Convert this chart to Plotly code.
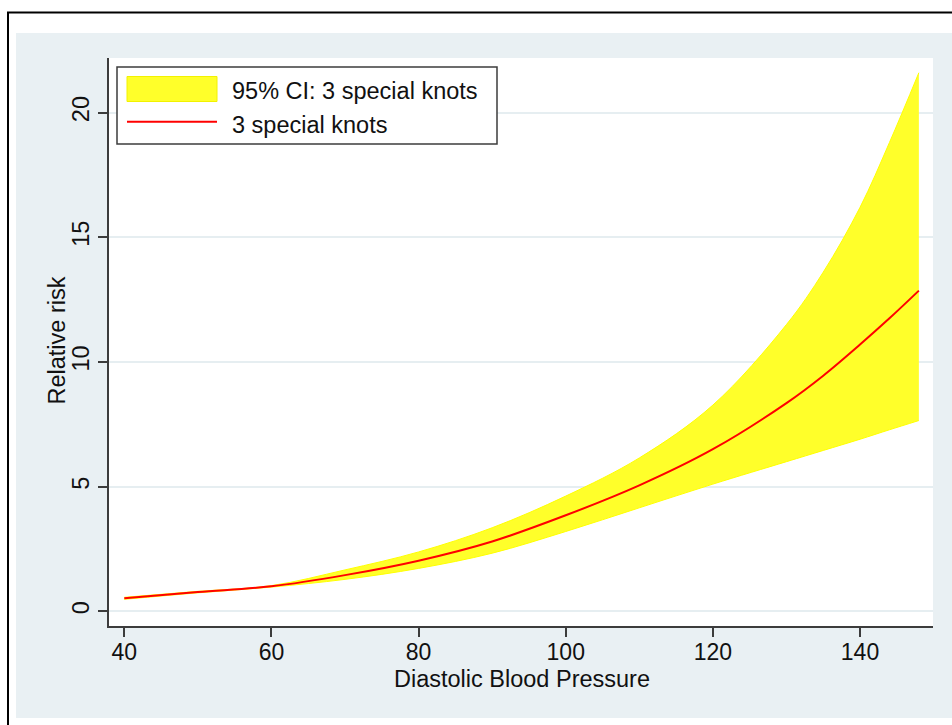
import plotly.graph_objects as go

# ---- data ----
dbp = [40, 50, 60, 70, 80, 90, 100, 110, 120, 130, 135, 140, 144, 148]
rr = [0.52, 0.77, 1.0, 1.45, 2.03, 2.8, 3.85, 5.05, 6.5, 8.35, 9.45, 10.7, 11.75, 12.86]
ci_upper = [0.56, 0.80, 1.03, 1.66, 2.38, 3.35, 4.62, 6.15, 8.27, 11.5, 13.6, 16.2, 18.8, 21.6]
ci_lower = [0.48, 0.74, 0.97, 1.28, 1.72, 2.33, 3.2, 4.15, 5.1, 6.0, 6.45, 6.9, 7.28, 7.65]

x_ticks = [40, 60, 80, 100, 120, 140]
y_ticks = [0, 5, 10, 15, 20]
legend_labels = ["95% CI: 3 special knots", "3 special knots"]
x_title = "Diastolic Blood Pressure"
y_title = "Relative risk"

# ---- geometry ----
W, H = 952, 725
L, R, T, B = 109, 933, 58, 626
PW, PH = R - L, B - T


def px(x):
    return (x - L) / PW


def py(y):
    return (B - y) / PH


FONT = "Liberation Sans, Arial, sans-serif"
FS = 23
TXT = "#111111"
YELLOW = "#ffff2a"
RED = "#ff0000"
GRID = "#e6eef1"
AXIS = "#3c3c3c"
REGION = "#e9f0f3"

fig = go.Figure()
fig.add_trace(go.Scatter(x=dbp, y=ci_lower, mode="lines", line=dict(color="#ffff00", width=1, shape="spline"),
                         showlegend=False, hoverinfo="skip"))
fig.add_trace(go.Scatter(x=dbp, y=ci_upper, mode="lines", fill="tonexty", fillcolor=YELLOW,
                         line=dict(color="#ffff00", width=1, shape="spline"), name=legend_labels[0], showlegend=False))
fig.add_trace(go.Scatter(x=dbp, y=rr, mode="lines", line=dict(color=RED, width=2, shape="spline"),
                         name=legend_labels[1], showlegend=False))

shapes = [
    # graph region
    dict(type="rect", xref="paper", yref="paper", x0=px(16), x1=px(970), y0=py(718), y1=py(33),
         fillcolor=REGION, line=dict(width=0), layer="below"),
    # plot region
    dict(type="rect", xref="paper", yref="paper", x0=0, x1=1, y0=0, y1=1,
         fillcolor="white", line=dict(width=0), layer="below"),
    # outer frame
    dict(type="rect", xref="paper", yref="paper", x0=px(8), x1=px(980), y0=py(760), y1=py(12.5),
         fillcolor="rgba(0,0,0,0)", line=dict(color="black", width=2), layer="below"),
    # legend box
    dict(type="rect", xref="paper", yref="paper", x0=px(117), x1=px(497), y0=py(144), y1=py(67),
         fillcolor="white", line=dict(color=AXIS, width=1.5), layer="above"),
    dict(type="rect", xref="paper", yref="paper", x0=px(127), x1=px(217), y0=py(101.5), y1=py(76.5),
         fillcolor=YELLOW, line=dict(color="#f2f200", width=1), layer="above"),
    dict(type="line", xref="paper", yref="paper", x0=px(127), x1=px(217), y0=py(121.7), y1=py(121.7),
         line=dict(color=RED, width=2), layer="above"),
]

annotations = [
    dict(text=legend_labels[0], xref="paper", yref="paper", x=px(230), y=py(91), xanchor="left",
         yanchor="middle", showarrow=False, font=dict(family=FONT, size=FS + 0.5, color=TXT)),
    dict(text=legend_labels[1], xref="paper", yref="paper", x=px(230), y=py(125), xanchor="left",
         yanchor="middle", showarrow=False, font=dict(family=FONT, size=FS + 0.5, color=TXT)),
    dict(text=x_title, xref="paper", yref="paper", x=px(521.5), y=py(678.5), xanchor="center",
         yanchor="middle", showarrow=False, font=dict(family=FONT, size=FS + 0.5, color=TXT)),
    dict(text=y_title, xref="paper", yref="paper", x=px(56.5), y=py(341), xanchor="center",
         yanchor="middle", textangle=-90, showarrow=False, font=dict(family=FONT, size=FS + 0.5, color=TXT)),
]

fig.update_layout(
    width=W, height=H,
    margin=dict(l=L, r=W - R, t=T, b=H - B, pad=0),
    paper_bgcolor="white",
    plot_bgcolor="rgba(0,0,0,0)",
    font=dict(family=FONT, size=FS, color=TXT),
    showlegend=False,
    shapes=shapes,
    annotations=annotations,
    xaxis=dict(range=[37.92, 149.92], tickvals=x_ticks, showgrid=False, zeroline=False,
               showline=True, linecolor=AXIS, linewidth=1.5, ticks="outside", ticklen=9,
               tickwidth=1.5, tickcolor=AXIS, tickfont=dict(size=FS, color=TXT),
               ticklabelstandoff=-4, automargin=False),
    yaxis=dict(range=[-0.59, 22.19], tickvals=y_ticks, showgrid=True, gridcolor=GRID, gridwidth=2,
               zeroline=False, showline=True, linecolor=AXIS, linewidth=1.5, ticks="outside",
               ticklen=9, tickwidth=1.5, tickcolor=AXIS, tickangle=-90,
               tickfont=dict(size=FS + 0.5, color=TXT),
               automargin=False),
)

fig.write_html("out.html")
